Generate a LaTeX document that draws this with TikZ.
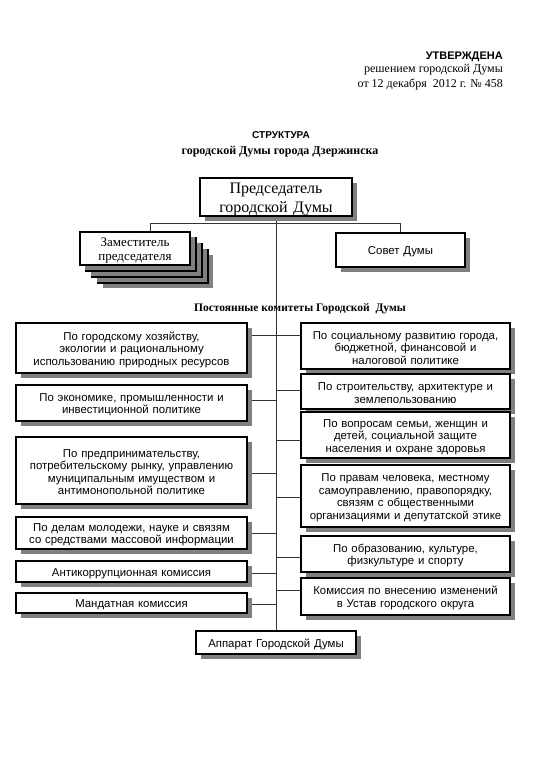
\documentclass[tikz,border=0pt]{standalone}
\usepackage{fontspec}
\setmainfont{Liberation Serif}
\setsansfont{Liberation Sans}
\usetikzlibrary{shadows}
\pgfdeclarelayer{background}
\pgfsetlayers{background,main}
\begin{document}
\begin{tikzpicture}[x=1pt,y=-1pt,
  shadowed/.style={general shadow={fill=black!50, shadow xshift=5pt, shadow yshift=-5pt}},
  cbox/.style={shadowed, draw=black, line width=1.5pt, fill=white, inner sep=0pt, align=center,
    font=\sffamily\fontsize{11.4}{12.5}\selectfont},
  lowtext/.style={execute at begin node={\rule{0pt}{#1}}},
  lowtext/.default=11.5pt,
  lbox/.style={cbox, lowtext, minimum width=231pt, text width=229pt},
  rbox/.style={cbox, lowtext, minimum width=209pt, text width=207pt},
  conn/.style={draw=black!80, line width=0.8pt},
  hdr/.style={inner sep=0pt, anchor=east}]
\useasboundingbox (0,0) rectangle (543,768);

% header
\node[hdr, font=\sffamily\bfseries\fontsize{11}{13}\selectfont] (appr) at (503,57) {УТВЕРЖДЕНА};
\node[hdr, font=\fontsize{12}{14}\selectfont] (dec) at (503,70) {решением городской Думы};
\node[hdr, font=\fontsize{12}{14}\selectfont] (date) at (503,84) {от 12 декабря\ \ 2012 г. № 458};

% title
\node[inner sep=0pt, font=\sffamily\bfseries\fontsize{10}{12}\selectfont] (t1) at (281,135) {СТРУКТУРА};
\node[inner sep=0pt, font=\bfseries\fontsize{12}{14}\selectfont] (t2) at (280,152) {городской Думы города Дзержинска};

% chairman
\node[cbox, lowtext=15pt, minimum width=152pt, minimum height=38pt, text width=148pt, font=\fontsize{16}{19}\selectfont] (chair) at (276,197)
  {Председатель\\городской Думы};

% deputy stack
\foreach \d in {18,12,6}{
  \fill[black!50] (85+\d,237+\d) rectangle (195+\d,270+\d);
  \filldraw[draw=black, fill=white, line width=1.5pt] (80+\d,232+\d) rectangle (190+\d,265+\d);
}
\node[cbox, lowtext=12.5pt, minimum width=110pt, minimum height=33pt, text width=106pt, font=\fontsize{13}{14.5}\selectfont] (dep) at (135,248.5)
  {Заместитель\\председателя};

% council
\node[cbox, lowtext=12pt, minimum width=129pt, minimum height=34pt, text width=125pt] (sov) at (400.5,250) {Совет Думы};

% committees title
\node[inner sep=0pt, font=\bfseries\fontsize{11.5}{13}\selectfont] (ct) at (300,309) {Постоянные комитеты Городской\ \ Думы};

% left column
\node[lbox, minimum height=50pt] (L1) at (131.5,348)
  {По городскому хозяйству,\\экологии и рациональному\\использованию природных ресурсов};
\node[lbox, minimum height=36pt] (L2) at (131.5,403)
  {По экономике, промышленности и\\инвестиционной политике};
\node[lbox, minimum height=67pt] (L3) at (131.5,470.5)
  {По предпринимательству,\\потребительскому рынку, управлению\\муниципальным имуществом и\\антимонопольной политике};
\node[lbox, minimum height=32pt] (L4) at (131.5,533)
  {По делам молодежи, науке и связям\\со средствами массовой информации};
\node[lbox, minimum height=21pt] (L5) at (131.5,571.5) {Антикоррупционная комиссия};
\node[lbox, minimum height=20pt] (L6) at (131.5,603) {Мандатная комиссия};

% right column
\node[rbox, minimum height=46pt] (R1) at (405.5,346)
  {По социальному развитию города,\\бюджетной, финансовой и\\налоговой политике};
\node[rbox, minimum height=35pt] (R2) at (405.5,391.5)
  {По строительству, архитектуре и\\землепользованию};
\node[rbox, minimum height=46pt] (R3) at (405.5,435)
  {По вопросам семьи, женщин и\\детей, социальной защите\\населения и охране здоровья};
\node[rbox, minimum height=62pt] (R4) at (405.5,496)
  {По правам человека, местному\\самоуправлению, правопорядку,\\связям с общественными\\организациями и депутатской этике};
\node[rbox, minimum height=36pt] (R5) at (405.5,554)
  {По образованию, культуре,\\физкультуре и спорту};
\node[rbox, minimum height=37pt] (R6) at (405.5,596.5)
  {Комиссия по внесению изменений\\в Устав городского округа};

% apparatus
\node[cbox, lowtext, minimum width=160pt, minimum height=23pt, text width=156pt] (app) at (276,642.5) {Аппарат Городской Думы};

% connectors, under the boxes
\begin{pgfonlayer}{background}
\coordinate (dj) at (150,223);
\coordinate (cj) at (400,223);
\path[conn] (dep.north -| dj) -- (dj) -- (cj) -- (cj |- sov.north);
\path[conn] (chair.south) -- (app.north);
\foreach \n/\y in {L1/335,L2/400,L3/473,L4/533,L5/573,L6/604}{
  \coordinate (k\n) at (276,\y);
  \path[conn] (\n.east |- k\n) -- (k\n);
}
\foreach \n/\y in {R1/335,R2/390,R3/440,R4/497,R5/557,R6/590}{
  \coordinate (k\n) at (276,\y);
  \path[conn] (k\n) -- (\n.west |- k\n);
}
\end{pgfonlayer}
\end{tikzpicture}
\end{document}
